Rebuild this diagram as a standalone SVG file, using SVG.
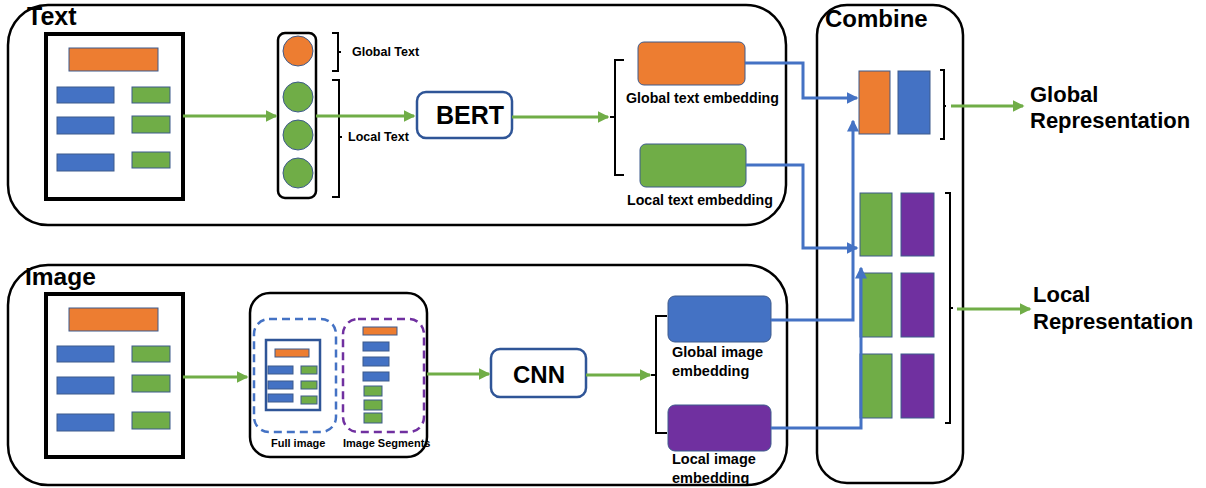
<svg xmlns="http://www.w3.org/2000/svg" width="1206" height="488" viewBox="0 0 1206 488">
<style>
.lbl{font-family:"Liberation Sans",Arial,sans-serif;font-weight:bold;fill:#000}
.frame{fill:none;stroke:#000;stroke-width:2.5}
.doc{fill:#fff;stroke:#000;stroke-width:4}
.or{fill:#ED7D31;stroke:#3D5A8C;stroke-width:1}
.bl{fill:#4472C4;stroke:#3D5A8C;stroke-width:1}
.gr{fill:#70AD47;stroke:#3D5A8C;stroke-width:1}
.pu{fill:#7030A0;stroke:#3D5A8C;stroke-width:1}
.brk{fill:none;stroke:#000;stroke-width:2}
.ga{fill:none;stroke:#70AD47;stroke-width:3;marker-end:url(#gh)}
.bam{fill:none;stroke:#4472C4;stroke-width:3;marker-end:url(#bh)}
.proc{fill:#fff;stroke:#2F5597;stroke-width:2.5}
</style>
<defs>
<marker id="gh" markerWidth="4" markerHeight="4" refX="3.5" refY="2" orient="auto" markerUnits="strokeWidth"><path d="M0,0 L4,2 L0,4 z" fill="#70AD47"/></marker>
<marker id="bh" markerWidth="4" markerHeight="4" refX="3.5" refY="2" orient="auto" markerUnits="strokeWidth"><path d="M0,0 L4,2 L0,4 z" fill="#4472C4"/></marker>
</defs>
<rect width="1206" height="488" fill="#fff"/>

<g id="text-section">
<rect class="frame" x="8" y="5" width="778" height="220" rx="40"/>
<text class="lbl" x="27" y="25" font-size="25">Text</text>
</g>
<g id="text-doc">
<rect class="doc" x="46" y="34" width="137" height="165"/>
<rect class="or" x="69" y="48" width="89" height="23"/>
<rect class="bl" x="57" y="87" width="57" height="16"/>
<rect class="bl" x="57" y="117" width="57" height="17"/>
<rect class="bl" x="57" y="154" width="57" height="17"/>
<rect class="gr" x="132" y="87" width="38" height="16"/>
<rect class="gr" x="132" y="116" width="38" height="17"/>
<rect class="gr" x="132" y="152" width="38" height="16"/>
</g>
<g id="tokens">
<rect x="278" y="33" width="38" height="165" rx="7" fill="#fff" stroke="#000" stroke-width="2.5"/>
<circle class="or" cx="298" cy="51" r="15"/>
<circle class="gr" cx="298" cy="97" r="15"/>
<circle class="gr" cx="298" cy="135" r="15"/>
<circle class="gr" cx="298" cy="173" r="15"/>
<path class="brk" d="M332,33 H338 V71 H332 M338,52 H341"/>
<text class="lbl" x="352" y="56" font-size="12.5">Global Text</text>
<path class="brk" d="M332,80 H339 V197 H332 M339,137 H342"/>
<text class="lbl" x="348" y="141" font-size="12.5">Local Text</text>
</g>
<g id="bert">
<rect class="proc" x="417" y="92" width="95" height="46" rx="9"/>
<text class="lbl" x="470" y="124" font-size="25" text-anchor="middle">BERT</text>
</g>
<g id="text-emb">
<path class="brk" d="M624,60 H615 V175 H624 M615,117 H610"/>
<rect class="or" x="638" y="42" width="107" height="43" rx="6"/>
<text class="lbl" x="626" y="103" font-size="14.2">Global text embedding</text>
<rect class="gr" x="640" y="144" width="106" height="43" rx="6"/>
<text class="lbl" x="627" y="205" font-size="14.2">Local text embedding</text>
</g>

<g id="image-section">
<rect class="frame" x="8" y="265" width="779" height="220" rx="40"/>
<text class="lbl" x="25" y="285" font-size="24.5">Image</text>
</g>
<g id="image-doc">
<rect class="doc" x="46" y="294" width="137" height="163"/>
<rect class="or" x="69" y="308" width="89" height="23"/>
<rect class="bl" x="57" y="346" width="57" height="16"/>
<rect class="bl" x="57" y="377" width="57" height="17"/>
<rect class="bl" x="57" y="414" width="57" height="17"/>
<rect class="gr" x="132" y="346" width="38" height="16"/>
<rect class="gr" x="132" y="375" width="38" height="17"/>
<rect class="gr" x="132" y="412" width="38" height="17"/>
</g>
<g id="image-split">
<rect x="250" y="293" width="177" height="164" rx="20" fill="#fff" stroke="#000" stroke-width="2.5"/>
<rect x="254" y="319" width="82" height="113" rx="15" fill="none" stroke="#4472C4" stroke-width="2.5" stroke-dasharray="8,5"/>
<rect x="343" y="319" width="81" height="113" rx="15" fill="none" stroke="#7030A0" stroke-width="2.5" stroke-dasharray="8,5"/>
<rect x="266" y="340" width="54" height="70" fill="#fff" stroke="#2F5597" stroke-width="2.5"/>
<rect class="or" x="275" y="349" width="34" height="8"/>
<rect class="bl" x="268" y="366" width="25" height="8"/>
<rect class="bl" x="268" y="381" width="25" height="8"/>
<rect class="bl" x="268" y="394" width="25" height="8"/>
<rect class="gr" x="301" y="366" width="16" height="8"/>
<rect class="gr" x="301" y="381" width="16" height="8"/>
<rect class="gr" x="301" y="396" width="16" height="8"/>
<rect class="or" x="363" y="327" width="34" height="8"/>
<rect class="bl" x="363" y="342" width="26" height="9"/>
<rect class="bl" x="363" y="357" width="26" height="9"/>
<rect class="bl" x="363" y="372" width="26" height="9"/>
<rect class="gr" x="364" y="386" width="18" height="10"/>
<rect class="gr" x="364" y="400" width="18" height="10"/>
<rect class="gr" x="364" y="413" width="18" height="10"/>
<text class="lbl" x="271" y="447" font-size="11">Full image</text>
<text class="lbl" x="343" y="447" font-size="11">Image Segments</text>
</g>
<g id="cnn">
<rect class="proc" x="491" y="349" width="95" height="48" rx="9"/>
<text class="lbl" x="539" y="383" font-size="24" text-anchor="middle">CNN</text>
</g>
<g id="image-emb">
<path class="brk" d="M667,316 H656 V433 H667 M656,375 H651"/>
<rect class="bl" x="668" y="296" width="103" height="46" rx="7"/>
<text class="lbl" x="672" y="357" font-size="14.5">Global image</text>
<text class="lbl" x="672" y="376" font-size="14.5">embedding</text>
<rect class="pu" x="668" y="405" width="103" height="46" rx="7"/>
<text class="lbl" x="672" y="464" font-size="14.5">Local image</text>
<text class="lbl" x="672" y="483" font-size="14.5">embedding</text>
</g>

<g id="combine">
<rect class="frame" x="817" y="5" width="146" height="478" rx="30"/>
<text class="lbl" x="825" y="27" font-size="24">Combine</text>
<rect class="or" x="859" y="71" width="31" height="63"/>
<rect class="bl" x="898" y="71" width="32" height="63"/>
<path class="brk" d="M940,70 H944 V139 H940 M944,106 H946"/>
<rect class="gr" x="860" y="193" width="32" height="63"/>
<rect class="pu" x="901" y="193" width="33" height="63"/>
<rect class="gr" x="860" y="273" width="32" height="64"/>
<rect class="pu" x="901" y="273" width="33" height="64"/>
<rect class="gr" x="860" y="354" width="32" height="64"/>
<rect class="pu" x="901" y="354" width="33" height="64"/>
<path class="brk" d="M945,193 H950 V423 H945 M950,308 H953"/>
</g>
<g id="outputs">
<text class="lbl" x="1030" y="102" font-size="22">Global</text>
<text class="lbl" x="1030" y="128" font-size="22">Representation</text>
<text class="lbl" x="1033" y="302" font-size="22">Local</text>
<text class="lbl" x="1033" y="329" font-size="22">Representation</text>
</g>

<g id="connectors">
<path class="ga" d="M183,116 H276"/>
<path class="ga" d="M316,116 H414"/>
<path class="ga" d="M512,117 H608"/>
<path class="ga" d="M183,377 H247"/>
<path class="ga" d="M427,374 H489"/>
<path class="ga" d="M586,375 H650"/>
<path class="ga" d="M951,106 H1023"/>
<path class="ga" d="M957,309 H1030"/>
<path class="bam" d="M745,63 H803 V98 H857"/>
<path class="bam" d="M746,165 H803 V248 H857"/>
<path class="bam" d="M771,320 H853 V121"/>
<path class="bam" d="M771,428 H861 V268"/>
</g>
</svg>
